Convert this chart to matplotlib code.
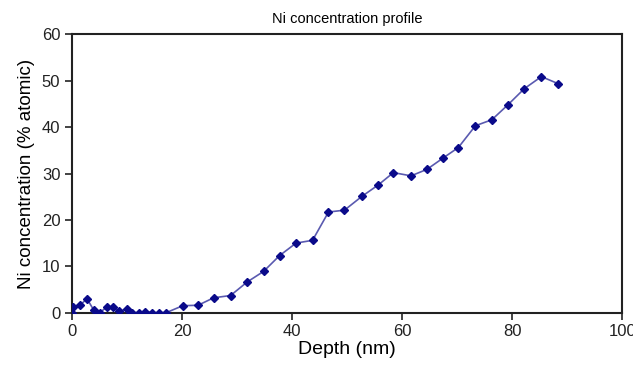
import numpy as np
import matplotlib.pyplot as plt

plt.rcParams['font.family'] = ['Liberation Sans', 'DejaVu Sans']

depth = [0.0, 0.2, 1.5, 2.7, 3.9, 5.0, 6.3, 7.5, 8.6, 9.9, 10.8, 12.1, 13.3, 14.5,
         15.7, 17.1, 20.1, 22.9, 25.7, 28.8, 31.8, 34.8, 37.7, 40.7, 43.7, 46.6,
         49.5, 52.7, 55.6, 58.4, 61.6, 64.5, 67.5, 70.2, 73.3, 76.3, 79.2, 82.2,
         85.3, 88.3]
ni = [0.0, 1.3, 1.7, 3.0, 0.6, 0.0, 1.2, 1.2, 0.3, 0.8, 0.0, 0.0, 0.2, 0.0,
      0.0, 0.0, 1.5, 1.6, 3.2, 3.7, 6.6, 8.9, 12.3, 15.0, 15.6, 21.7,
      22.1, 25.1, 27.5, 30.2, 29.5, 30.9, 33.4, 35.6, 40.3, 41.6, 44.8, 48.3,
      50.9, 49.4]

fig = plt.figure(figsize=(6.33, 3.74), dpi=100)
ax = fig.add_axes([0.114, 0.164, 0.869, 0.744])
ax.plot(depth, ni, color='#5a5ab0', lw=1.2, zorder=2)
ax.plot(depth, ni, 'D', color='#0a0a8a', ms=4, zorder=3)

ax.set_xlim(0, 100)
ax.set_ylim(0, 60)
ax.set_xticks(range(0, 101, 20))
ax.set_yticks(range(0, 61, 10))
ax.tick_params(labelsize=12, length=5, width=1.2, colors='#222222')
for sp in ax.spines.values():
    sp.set_linewidth(1.5)
    sp.set_color('#222222')

ax.set_xlabel('Depth (nm)', fontsize=14, labelpad=1)
ax.set_ylabel('Ni concentration (% atomic)', fontsize=13.5, labelpad=5)
ax.set_title('Ni concentration profile', fontsize=10.5, pad=8)

plt.savefig('out.png', dpi=100)
plt.close()
